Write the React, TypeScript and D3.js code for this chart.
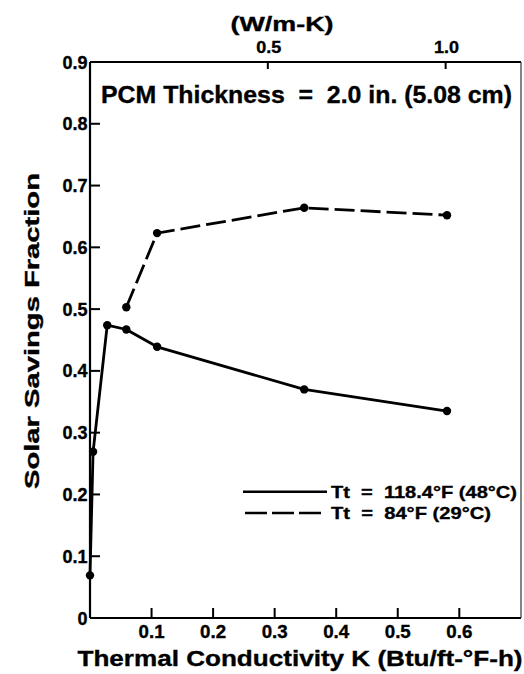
import React from "react";
import * as d3 from "d3";

const solidK = [0, 0.005, 0.028, 0.059, 0.109, 0.348, 0.58];
const solidSSF = [0.069, 0.269, 0.474, 0.467, 0.439, 0.37, 0.335];
const dashedK = [0.059, 0.109, 0.348, 0.58];
const dashedSSF = [0.503, 0.623, 0.664, 0.652];
const yTicks = [0, 0.1, 0.2, 0.3, 0.4, 0.5, 0.6, 0.7, 0.8, 0.9];
const yTickLabels = ["0", "0.1", "0.2", "0.3", "0.4", "0.5", "0.6", "0.7", "0.8", "0.9"];
const xTicks = [0.1, 0.2, 0.3, 0.4, 0.5, 0.6];
const xTickLabels = ["0.1", "0.2", "0.3", "0.4", "0.5", "0.6"];
const topTicks = [0.5, 1.0];
const topTickLabels = ["0.5", "1.0"];
const legendLabels = ["Tt  =  118.4\u00B0F (48\u00B0C)", "Tt  =  84\u00B0F (29\u00B0C)"];
const WMK_PER_BTU = 1.7307;

const FONT = "'Liberation Sans', Arial, Helvetica, sans-serif";

export default function App() {
  const left = 90, right = 521, top = 62, bottom = 618;
  const x = d3.scaleLinear().domain([0, 0.7]).range([left, left + 0.7 * 615.5]);
  const y = d3.scaleLinear().domain([0, 0.9]).range([bottom, top]);
  const line = d3
    .line<[number, number]>()
    .x((d) => x(d[0]))
    .y((d) => y(d[1]));
  const solid: [number, number][] = solidK.map((k, i) => [k, solidSSF[i]]);
  const dashed: [number, number][] = dashedK.map((k, i) => [k, dashedSSF[i]]);
  const ts = { stroke: "#000", strokeWidth: 0.35, style: { whiteSpace: "pre" as const } };

  return (
    <svg width={524} height={674} viewBox="0 0 524 674"
      style={{ display: "block", position: "absolute", left: 0, top: 0 }}
      fontFamily={FONT} fontWeight="bold" fill="#000">
      <rect x={0} y={0} width={524} height={674} fill="#fff" />
      {/* frame */}
      <line x1={left} x2={left} y1={top} y2={bottom} stroke="#000" strokeWidth={2.2} />
      <line x1={left} x2={right} y1={bottom} y2={bottom} stroke="#000" strokeWidth={2.2} />
      <line x1={left} x2={right} y1={top} y2={top} stroke="#000" strokeWidth={1.8} />
      <line x1={right} x2={right} y1={top} y2={bottom} stroke="#333" strokeWidth={1.2} />
      {/* left ticks */}
      {yTicks.map((t, i) => (
        <g key={"y" + i}>
          {t > 0 && t < 0.9 && (
            <line x1={left} x2={left + 10} y1={y(t)} y2={y(t)} stroke="#000" strokeWidth={2} />
          )}
          <text x={87.5} y={y(t) + 6.5} textAnchor="end" fontSize={18} {...ts}>
            {yTickLabels[i]}
          </text>
        </g>
      ))}
      {/* bottom ticks */}
      {xTicks.map((t, i) => (
        <g key={"x" + i}>
          <line x1={x(t)} x2={x(t)} y1={bottom} y2={bottom - 10} stroke="#000" strokeWidth={2} />
          <text x={x(t)} y={638} textAnchor="middle" fontSize={18} textLength={26} lengthAdjust="spacingAndGlyphs" {...ts}>
            {xTickLabels[i]}
          </text>
        </g>
      ))}
      {/* top ticks */}
      {topTicks.map((t, i) => (
        <g key={"t" + i}>
          <line x1={x(t / WMK_PER_BTU)} x2={x(t / WMK_PER_BTU)} y1={top} y2={top + 7} stroke="#000" strokeWidth={2} />
          <text x={x(t / WMK_PER_BTU) + 1} y={53} textAnchor="middle" fontSize={17} textLength={25} lengthAdjust="spacingAndGlyphs" {...ts}>
            {topTickLabels[i]}
          </text>
        </g>
      ))}
      <text x={282} y={31} textAnchor="middle" fontSize={20} textLength={103} lengthAdjust="spacingAndGlyphs" {...ts}>(W/m-K)</text>
      <text x={101} y={103} fontSize={23} textLength={411} lengthAdjust="spacingAndGlyphs" {...ts}>
        {"PCM Thickness  =  2.0 in. (5.08 cm)"}
      </text>
      <text x={300} y={666} textAnchor="middle" fontSize={22} textLength={445} lengthAdjust="spacingAndGlyphs" {...ts}>
        {"Thermal Conductivity K (Btu/ft-\u00B0F-h)"}
      </text>
      <text transform={`translate(39,331) rotate(-90)`} textAnchor="middle" fontSize={21} textLength={316} lengthAdjust="spacingAndGlyphs" {...ts}>
        Solar Savings Fraction
      </text>
      {/* series */}
      <path d={line(solid) || ""} fill="none" stroke="#000" strokeWidth={2.8} strokeLinejoin="round" />
      <path d={line(dashed) || ""} fill="none" stroke="#000" strokeWidth={2.8} strokeDasharray="20,6" />
      {solid.map((d, i) => (
        <circle key={"s" + i} cx={x(d[0])} cy={y(d[1])} r={4.2} fill="#000" />
      ))}
      {dashed.map((d, i) => (
        <circle key={"d" + i} cx={x(d[0])} cy={y(d[1])} r={4.2} fill="#000" />
      ))}
      {/* legend */}
      <line x1={243} x2={327} y1={491.7} y2={491.7} stroke="#000" strokeWidth={2.5} />
      <text x={331} y={497.5} fontSize={17} textLength={186} lengthAdjust="spacingAndGlyphs" {...ts}>{legendLabels[0]}</text>
      <line x1={245} x2={321} y1={513} y2={513} stroke="#000" strokeWidth={2.5} strokeDasharray="22,5" />
      <text x={331} y={518.5} fontSize={17} textLength={160} lengthAdjust="spacingAndGlyphs" {...ts}>{legendLabels[1]}</text>
    </svg>
  );
}
